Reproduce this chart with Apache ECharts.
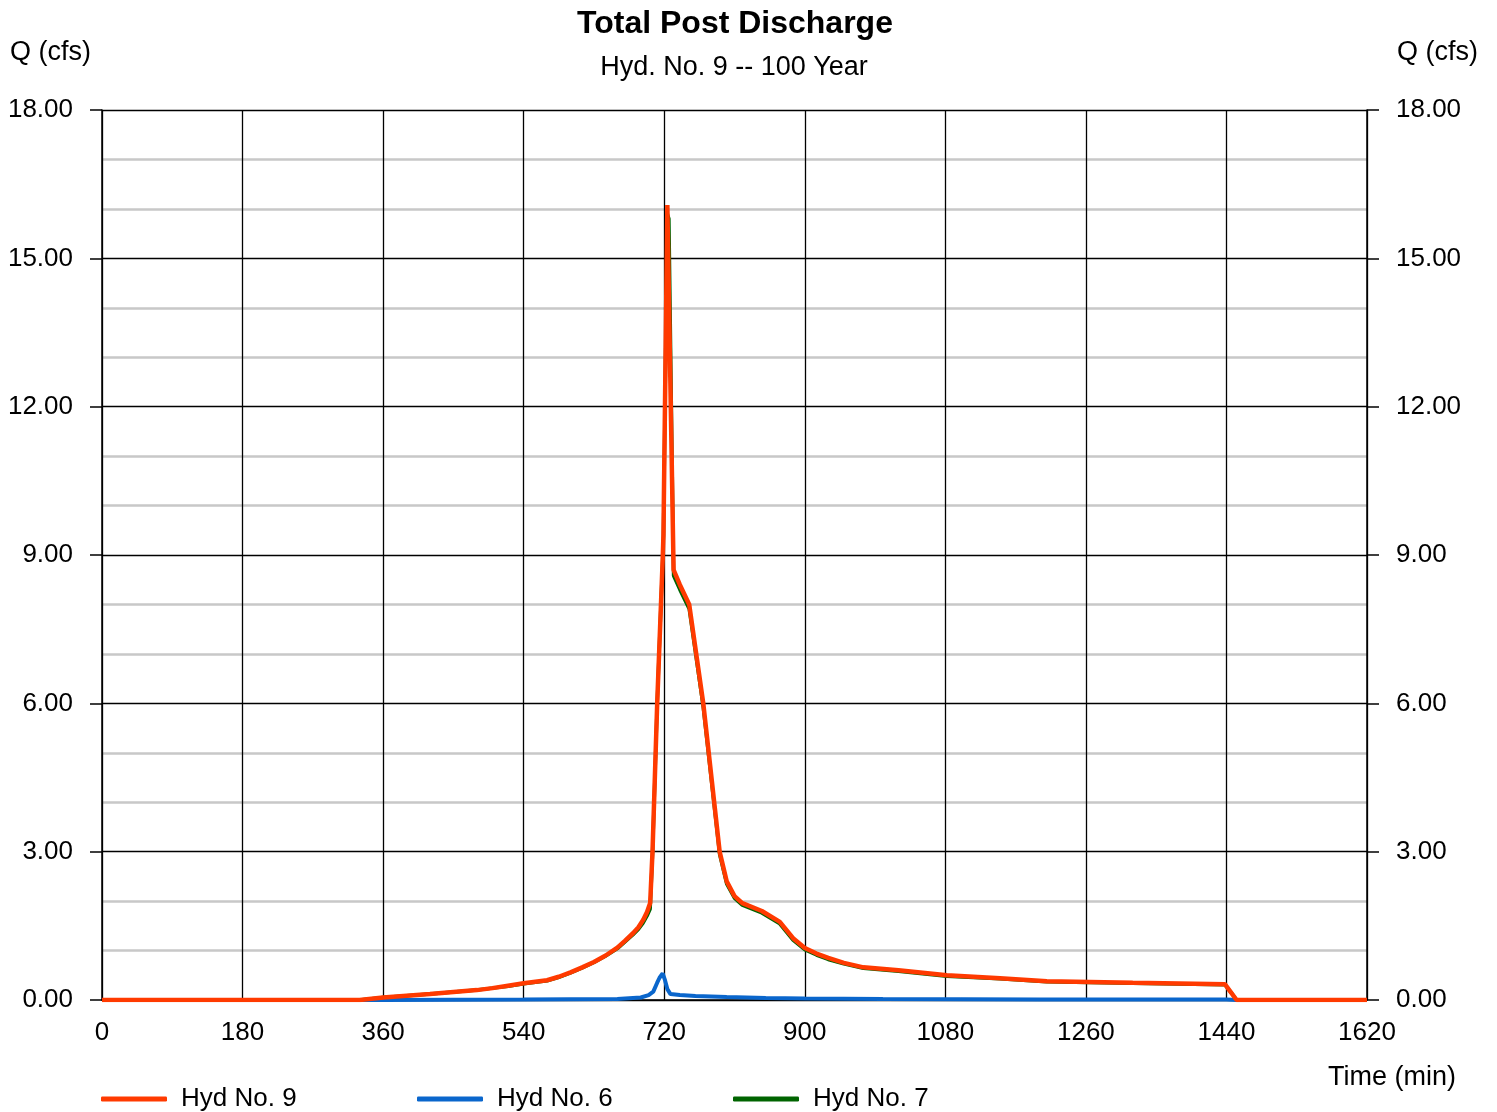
<!DOCTYPE html>
<html>
<head>
<meta charset="utf-8">
<title>Total Post Discharge</title>
<script src="https://cdn.jsdelivr.net/npm/echarts@6/dist/echarts.min.js"></script>
<style>
  html, body { margin: 0; padding: 0; background: #fff; }
  #main { width: 1497px; height: 1112px; }
</style>
</head>
<body>
<div id="main"></div>
<script>
// 数据
var hyd9Time = [0, 330, 360, 420, 480, 500, 520, 540, 555, 570, 585, 600, 615, 630, 645, 660, 670, 680, 687, 693, 698, 702, 705, 711, 718, 719, 724, 726, 732,
                740, 752, 770, 791, 800, 810, 820, 845, 868, 885, 900, 915, 930, 950, 975, 1020, 1082, 1150, 1210, 1320, 1438, 1446, 1453, 1620];
var hyd9Q = [0, 0, 0.05, 0.12, 0.2, 0.24, 0.29, 0.34, 0.37, 0.4, 0.47, 0.56, 0.66, 0.77, 0.9, 1.06, 1.2, 1.35, 1.47, 1.62, 1.78, 1.96, 3.0, 6.0, 8.9, 9.4, 16.08, 16.08, 8.7,
             8.4, 8.0, 6.0, 3.0, 2.4, 2.1, 1.96, 1.8, 1.58, 1.25, 1.05, 0.94, 0.85, 0.75, 0.66, 0.6, 0.5, 0.44, 0.38, 0.35, 0.32, 0.15, 0, 0];

var hyd7Time = hyd9Time;
var hyd7Q = [0, 0, 0.05, 0.12, 0.2, 0.24, 0.28, 0.33, 0.36, 0.39, 0.46, 0.55, 0.65, 0.76, 0.89, 1.04, 1.18, 1.32, 1.43, 1.56, 1.7, 1.84, 2.95, 6.0, 8.9, 9.4, 15.9, 15.8, 8.58,
             8.3, 7.91, 5.92, 2.94, 2.35, 2.06, 1.92, 1.76, 1.54, 1.21, 1.02, 0.91, 0.82, 0.73, 0.64, 0.58, 0.48, 0.43, 0.37, 0.34, 0.31, 0.15, 0, 0];

var hyd6Time = [0, 360, 540, 660, 690, 700, 706, 711, 714, 718, 721, 724, 728, 740, 760, 800, 850, 900, 1000, 1100, 1200, 1300, 1440, 1453, 1620];
var hyd6Q = [0, 0, 0.01, 0.02, 0.05, 0.1, 0.17, 0.35, 0.45, 0.54, 0.4, 0.22, 0.12, 0.1, 0.08, 0.06, 0.04, 0.03, 0.02, 0.015, 0.01, 0.01, 0.01, 0, 0];

var xTicks = { min: 0, max: 1620, interval: 180 };
var yTicks = { min: 0, max: 18, interval: 3 };

function pairs(t, q) {
    var out = [];
    for (var i = 0; i < t.length; i++) {
        out.push([t[i], q[i]]);
    }
    return out;
}

var FONT = "'Liberation Sans', Arial, sans-serif";
var gridL = 102, gridR = 1367, gridT = 110, gridB = 1000;

var myChart = echarts.init(document.getElementById('main'));

function legendAt(x, name) {
    return {
        data: [name],
        left: x,
        top: 1081,
        icon: 'roundRect',
        itemWidth: 66,
        itemHeight: 5,
        textStyle: { fontFamily: FONT, fontSize: 26, color: '#000', padding: [0, 0, 0, 9] }
    };
}

var yAxisBase = {
    type: 'value',
    min: yTicks.min,
    max: yTicks.max,
    interval: yTicks.interval,
    axisLine: { show: true, lineStyle: { color: '#000', width: 1.5 } },
    axisTick: { show: true, inside: false, length: 12, lineStyle: { color: '#000', width: 1.5 } },
    axisLabel: {
        fontFamily: FONT, fontSize: 26, color: '#000', margin: 29, padding: [4, 0, 0, 0],
        formatter: function (v) { return v.toFixed(2); }
    }
};

myChart.setOption({
    animation: false,
    backgroundColor: '#fff',
    title: [
        {
            text: 'Total Post Discharge',
            left: 730, top: 3, textAlign: 'center',
            textStyle: { fontFamily: FONT, fontSize: 32, fontWeight: 'bold', color: '#000' }
        },
        {
            text: 'Hyd. No. 9 -- 100 Year',
            left: 729, top: 49, textAlign: 'center',
            textStyle: { fontFamily: FONT, fontSize: 27, fontWeight: 'normal', color: '#000' }
        },
        {
            text: 'Q (cfs)', left: 5, top: 34,
            textStyle: { fontFamily: FONT, fontSize: 27, fontWeight: 'normal', color: '#000' }
        },
        {
            text: 'Q (cfs)', left: 1392, top: 34,
            textStyle: { fontFamily: FONT, fontSize: 27, fontWeight: 'normal', color: '#000' }
        },
        {
            text: 'Time (min)', left: 1323, top: 1059,
            textStyle: { fontFamily: FONT, fontSize: 27, fontWeight: 'normal', color: '#000' }
        }
    ],
    legend: [
        legendAt(96, 'Hyd No. 9'),
        legendAt(412, 'Hyd No. 6'),
        legendAt(728, 'Hyd No. 7')
    ],
    grid: {
        left: gridL,
        right: 1497 - gridR,
        top: gridT,
        bottom: 1112 - gridB,
        containLabel: false
    },
    xAxis: {
        type: 'value',
        min: xTicks.min,
        max: xTicks.max,
        interval: xTicks.interval,
        axisLine: { show: true, lineStyle: { color: '#000', width: 1.5 } },
        axisTick: { show: false },
        axisLabel: {
            fontFamily: FONT, fontSize: 26, color: '#000', margin: 20,
            formatter: function (v) { return String(v); }
        },
        splitLine: { show: true, lineStyle: { color: '#000', width: 1.3 } }
    },
    yAxis: [
        Object.assign({}, yAxisBase, {
            position: 'left',
            splitLine: { show: true, lineStyle: { color: '#000', width: 1.3 } },
            minorTick: { show: false, splitNumber: 3 },
            minorSplitLine: { show: true, lineStyle: { color: '#c8c8c8', width: 2.5 } }
        }),
        Object.assign({}, yAxisBase, {
            position: 'right',
            splitLine: { show: false }
        })
    ],
    series: [
        {
            name: 'Hyd No. 9',
            type: 'line',
            data: pairs(hyd9Time, hyd9Q),
            showSymbol: false,
            color: '#ff3a00',
            lineStyle: { width: 4.5, color: '#ff3a00' },
            z: 5
        },
        {
            name: 'Hyd No. 6',
            type: 'line',
            data: pairs(hyd6Time, hyd6Q),
            showSymbol: false,
            color: '#0a66cc',
            lineStyle: { width: 4, color: '#0a66cc' },
            z: 4
        },
        {
            name: 'Hyd No. 7',
            type: 'line',
            data: pairs(hyd7Time, hyd7Q),
            showSymbol: false,
            color: '#006400',
            lineStyle: { width: 3.5, color: '#006400' },
            z: 3
        }
    ]
});
</script>
</body>
</html>
